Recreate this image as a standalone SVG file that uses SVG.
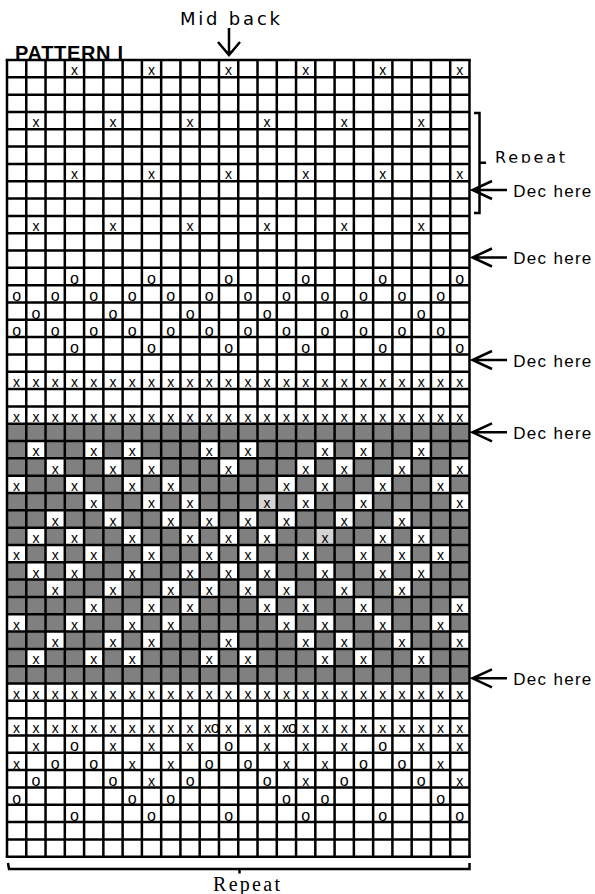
<svg xmlns="http://www.w3.org/2000/svg" width="595" height="894" viewBox="0 0 595 894">
<style>
.c{font-family:"Liberation Sans",Arial,sans-serif;font-size:14px;text-anchor:middle;fill:#000}
.o{font-family:"Liberation Sans",Arial,sans-serif;font-size:16px;text-anchor:middle;fill:#000}
.oo{font-size:16px}
.dec{font-family:"Liberation Sans",Arial,sans-serif;font-size:17px;fill:#000}
.ln{fill:none;stroke:#000;stroke-width:2.5}
.w{fill:#fff}
</style>
<defs>
<clipPath id="rc"><rect x="490" y="140" width="100" height="22.8"/></clipPath>
</defs>
<rect width="595" height="894" fill="#fff"/>
<g id="title">
<text x="15" y="60" font-family="'Liberation Sans',Arial,sans-serif" font-weight="bold" font-size="20" textLength="108" lengthAdjust="spacing">PATTERN I</text>
<text x="180" y="25" font-family="'DejaVu Sans',Verdana,sans-serif" font-size="18" textLength="100" lengthAdjust="spacing">Mid back</text>
</g>
<g id="shading">
<rect x="7" y="423.72" width="462.48" height="259.8" fill="#808080"/>
<path class="w" d="M26.27 441.04h19.27v17.32h-19.27zM84.08 441.04h19.27v17.32h-19.27zM122.62 441.04h19.27v17.32h-19.27zM199.7 441.04h19.27v17.32h-19.27zM238.24 441.04h19.27v17.32h-19.27zM315.32 441.04h19.27v17.32h-19.27zM353.86 441.04h19.27v17.32h-19.27zM411.67 441.04h19.27v17.32h-19.27z"/>
<path class="w" d="M45.54 458.36h19.27v17.32h-19.27zM103.35 458.36h19.27v17.32h-19.27zM141.89 458.36h19.27v17.32h-19.27zM218.97 458.36h19.27v17.32h-19.27zM296.05 458.36h19.27v17.32h-19.27zM334.59 458.36h19.27v17.32h-19.27zM392.4 458.36h19.27v17.32h-19.27zM450.21 458.36h19.27v17.32h-19.27z"/>
<path class="w" d="M7 475.68h19.27v17.32h-19.27zM64.81 475.68h19.27v17.32h-19.27zM122.62 475.68h19.27v17.32h-19.27zM161.16 475.68h19.27v17.32h-19.27zM276.78 475.68h19.27v17.32h-19.27zM315.32 475.68h19.27v17.32h-19.27zM373.13 475.68h19.27v17.32h-19.27zM430.94 475.68h19.27v17.32h-19.27z"/>
<path class="w" d="M84.08 493h19.27v17.32h-19.27zM141.89 493h19.27v17.32h-19.27zM180.43 493h19.27v17.32h-19.27zM296.05 493h19.27v17.32h-19.27zM353.86 493h19.27v17.32h-19.27zM450.21 493h19.27v17.32h-19.27z"/>
<path class="w" d="M45.54 510.32h19.27v17.32h-19.27zM103.35 510.32h19.27v17.32h-19.27zM161.16 510.32h19.27v17.32h-19.27zM199.7 510.32h19.27v17.32h-19.27zM238.24 510.32h19.27v17.32h-19.27zM276.78 510.32h19.27v17.32h-19.27zM334.59 510.32h19.27v17.32h-19.27zM392.4 510.32h19.27v17.32h-19.27z"/>
<path class="w" d="M26.27 527.64h19.27v17.32h-19.27zM64.81 527.64h19.27v17.32h-19.27zM122.62 527.64h19.27v17.32h-19.27zM180.43 527.64h19.27v17.32h-19.27zM218.97 527.64h19.27v17.32h-19.27zM257.51 527.64h19.27v17.32h-19.27zM373.13 527.64h19.27v17.32h-19.27zM411.67 527.64h19.27v17.32h-19.27z"/>
<path class="w" d="M7 544.96h19.27v17.32h-19.27zM45.54 544.96h19.27v17.32h-19.27zM84.08 544.96h19.27v17.32h-19.27zM141.89 544.96h19.27v17.32h-19.27zM199.7 544.96h19.27v17.32h-19.27zM238.24 544.96h19.27v17.32h-19.27zM296.05 544.96h19.27v17.32h-19.27zM353.86 544.96h19.27v17.32h-19.27zM392.4 544.96h19.27v17.32h-19.27zM430.94 544.96h19.27v17.32h-19.27z"/>
<path class="w" d="M26.27 562.28h19.27v17.32h-19.27zM64.81 562.28h19.27v17.32h-19.27zM122.62 562.28h19.27v17.32h-19.27zM180.43 562.28h19.27v17.32h-19.27zM218.97 562.28h19.27v17.32h-19.27zM257.51 562.28h19.27v17.32h-19.27zM315.32 562.28h19.27v17.32h-19.27zM373.13 562.28h19.27v17.32h-19.27zM411.67 562.28h19.27v17.32h-19.27z"/>
<path class="w" d="M45.54 579.6h19.27v17.32h-19.27zM103.35 579.6h19.27v17.32h-19.27zM161.16 579.6h19.27v17.32h-19.27zM199.7 579.6h19.27v17.32h-19.27zM238.24 579.6h19.27v17.32h-19.27zM276.78 579.6h19.27v17.32h-19.27zM334.59 579.6h19.27v17.32h-19.27zM392.4 579.6h19.27v17.32h-19.27z"/>
<path class="w" d="M84.08 596.92h19.27v17.32h-19.27zM141.89 596.92h19.27v17.32h-19.27zM180.43 596.92h19.27v17.32h-19.27zM257.51 596.92h19.27v17.32h-19.27zM296.05 596.92h19.27v17.32h-19.27zM353.86 596.92h19.27v17.32h-19.27zM450.21 596.92h19.27v17.32h-19.27z"/>
<path class="w" d="M7 614.24h19.27v17.32h-19.27zM64.81 614.24h19.27v17.32h-19.27zM122.62 614.24h19.27v17.32h-19.27zM161.16 614.24h19.27v17.32h-19.27zM276.78 614.24h19.27v17.32h-19.27zM315.32 614.24h19.27v17.32h-19.27zM373.13 614.24h19.27v17.32h-19.27zM430.94 614.24h19.27v17.32h-19.27z"/>
<path class="w" d="M45.54 631.56h19.27v17.32h-19.27zM103.35 631.56h19.27v17.32h-19.27zM141.89 631.56h19.27v17.32h-19.27zM218.97 631.56h19.27v17.32h-19.27zM296.05 631.56h19.27v17.32h-19.27zM334.59 631.56h19.27v17.32h-19.27zM392.4 631.56h19.27v17.32h-19.27zM450.21 631.56h19.27v17.32h-19.27z"/>
<path class="w" d="M26.27 648.88h19.27v17.32h-19.27zM84.08 648.88h19.27v17.32h-19.27zM122.62 648.88h19.27v17.32h-19.27zM199.7 648.88h19.27v17.32h-19.27zM238.24 648.88h19.27v17.32h-19.27zM315.32 648.88h19.27v17.32h-19.27zM353.86 648.88h19.27v17.32h-19.27zM411.67 648.88h19.27v17.32h-19.27z"/>
<path fill="#d4d4d4" d="M257.51 493h19.27v17.32h-19.27zM315.32 527.64h19.27v17.32h-19.27z"/>
</g>
<g id="grid">
<path class="ln" stroke-width="2.6" d="M7 60V856.72M26.27 60V856.72M45.54 60V856.72M64.81 60V856.72M84.08 60V856.72M103.35 60V856.72M122.62 60V856.72M141.89 60V856.72M161.16 60V856.72M180.43 60V856.72M199.7 60V856.72M218.97 60V856.72M238.24 60V856.72M257.51 60V856.72M276.78 60V856.72M296.05 60V856.72M315.32 60V856.72M334.59 60V856.72M353.86 60V856.72M373.13 60V856.72M392.4 60V856.72M411.67 60V856.72M430.94 60V856.72M450.21 60V856.72M469.48 60V856.72"/>
<path class="ln" stroke-width="2.3" d="M5.7 60H470.8M7 77.32H469.48M7 94.64H469.48M7 111.96H469.48M7 129.28H469.48M7 146.6H469.48M7 163.92H469.48M7 181.24H469.48M7 198.56H469.48M7 215.88H469.48M7 233.2H469.48M7 250.52H469.48M7 267.84H469.48M7 285.16H469.48M7 302.48H469.48M7 319.8H469.48M7 337.12H469.48M7 354.44H469.48M7 371.76H469.48M7 389.08H469.48M7 406.4H469.48M7 423.72H469.48M7 441.04H469.48M7 458.36H469.48M7 475.68H469.48M7 493H469.48M7 510.32H469.48M7 527.64H469.48M7 544.96H469.48M7 562.28H469.48M7 579.6H469.48M7 596.92H469.48M7 614.24H469.48M7 631.56H469.48M7 648.88H469.48M7 666.2H469.48M7 683.52H469.48M7 700.84H469.48M7 718.16H469.48M7 735.48H469.48M7 752.8H469.48M7 770.12H469.48M7 787.44H469.48M7 804.76H469.48M7 822.08H469.48M7 839.4H469.48M5.7 856.72H470.8"/>
</g>
<g id="stitches">
<text class="c" x="74.4 151.5 228.6 305.7 382.8 459.8" y="75.32">xxxxxx</text>
<text class="c" x="35.9 113 190.1 267.1 344.2 421.3" y="127.28">xxxxxx</text>
<text class="c" x="74.4 151.5 228.6 305.7 382.8 459.8" y="179.24">xxxxxx</text>
<text class="c" x="35.9 113 190.1 267.1 344.2 421.3" y="231.2">xxxxxx</text>
<text class="o" x="74.4 151.5 228.6 305.7 382.8 459.8" y="284.16">oooooo</text>
<text class="o" x="16.6 55.2 93.7 132.3 170.8 209.3 247.9 286.4 325 363.5 402 440.6" y="301.48">oooooooooooo</text>
<text class="o" x="35.9 113 190.1 267.1 344.2 421.3" y="318.8">oooooo</text>
<text class="o" x="16.6 55.2 93.7 132.3 170.8 209.3 247.9 286.4 325 363.5 402 440.6" y="336.12">oooooooooooo</text>
<text class="o" x="74.4 151.5 228.6 305.7 382.8 459.8" y="353.44">oooooo</text>
<text class="c" x="16.6 35.9 55.2 74.4 93.7 113 132.3 151.5 170.8 190.1 209.3 228.6 247.9 267.1 286.4 305.7 325 344.2 363.5 382.8 402 421.3 440.6 459.8" y="387.08">xxxxxxxxxxxxxxxxxxxxxxxx</text>
<text class="c" x="16.6 35.9 55.2 74.4 93.7 113 132.3 151.5 170.8 190.1 209.3 228.6 247.9 267.1 286.4 305.7 325 344.2 363.5 382.8 402 421.3 440.6 459.8" y="421.72">xxxxxxxxxxxxxxxxxxxxxxxx</text>
<text class="c" x="35.9 93.7 132.3 209.3 247.9 325 363.5 421.3" y="456.36">xxxxxxxx</text>
<text class="c" x="55.2 113 151.5 228.6 305.7 344.2 402 459.8" y="473.68">xxxxxxxx</text>
<text class="c" x="16.6 74.4 132.3 170.8 286.4 325 382.8 440.6" y="491">xxxxxxxx</text>
<text class="c" x="93.7 151.5 190.1 267.1 305.7 363.5 459.8" y="508.32">xxxxxxx</text>
<text class="c" x="55.2 113 170.8 209.3 247.9 286.4 344.2 402" y="525.64">xxxxxxxx</text>
<text class="c" x="35.9 74.4 132.3 190.1 228.6 267.1 325 382.8 421.3" y="542.96">xxxxxxxxx</text>
<text class="c" x="16.6 55.2 93.7 151.5 209.3 247.9 305.7 363.5 402 440.6" y="560.28">xxxxxxxxxx</text>
<text class="c" x="35.9 74.4 132.3 190.1 228.6 267.1 325 382.8 421.3" y="577.6">xxxxxxxxx</text>
<text class="c" x="55.2 113 170.8 209.3 247.9 286.4 344.2 402" y="594.92">xxxxxxxx</text>
<text class="c" x="93.7 151.5 190.1 267.1 305.7 363.5 459.8" y="612.24">xxxxxxx</text>
<text class="c" x="16.6 74.4 132.3 170.8 286.4 325 382.8 440.6" y="629.56">xxxxxxxx</text>
<text class="c" x="55.2 113 151.5 228.6 305.7 344.2 402 459.8" y="646.88">xxxxxxxx</text>
<text class="c" x="35.9 93.7 132.3 209.3 247.9 325 363.5 421.3" y="664.2">xxxxxxxx</text>
<text class="c" x="16.6 35.9 55.2 74.4 93.7 113 132.3 151.5 170.8 190.1 209.3 228.6 247.9 267.1 286.4 305.7 325 344.2 363.5 382.8 402 421.3 440.6 459.8" y="698.84">xxxxxxxxxxxxxxxxxxxxxxxx</text>
<text class="c" x="16.6 35.9 55.2 74.4 93.7 113 132.3 151.5 170.8 190.1 207.8 215.3 228.6 247.9 267.1 285.4 292.4 305.7 325 344.2 363.5 382.8 402 421.3 440.6 459.8" y="733.48">xxxxxxxxxxx<tspan class="oo">o</tspan>xxxx<tspan class="oo">o</tspan>xxxxxxxxx</text>
<text class="c" x="35.9 74.4 113 151.5 190.1 228.6 267.1 305.7 344.2 382.8 421.3 459.8" y="751.2">x<tspan class="oo">o</tspan>xxx<tspan class="oo">o</tspan>xxx<tspan class="oo">o</tspan>xx</text>
<text class="c" x="16.6 55.2 93.7 132.3 170.8 209.3 247.9 286.4 325 363.5 402 440.6" y="768.5">x<tspan class="oo">oo</tspan>xx<tspan class="oo">oo</tspan>xx<tspan class="oo">oo</tspan>x</text>
<text class="c" x="35.9 113 151.5 190.1 267.1 305.7 344.2 421.3 459.8" y="785.9"><tspan class="oo">oo</tspan>x<tspan class="oo">oo</tspan>x<tspan class="oo">oo</tspan>x</text>
<text class="o" x="16.6 132.3 170.8 286.4 325 440.6" y="803.76">oooooo</text>
<text class="o" x="74.4 151.5 228.6 305.7 382.8 459.8" y="821.08">oooooo</text>
</g>
<g id="connectors">
<path class="ln" d="M229 28V55M218 42L229 55L240 42"/>
<path class="ln" d="M474 113H479.5V162.7H486M479.5 162.7V213H474"/>
<path class="ln" d="M8 863L9 869H469.5V863M239.5 869V873.5"/>
<path class="ln" d="M472.5 190H507M492 181L472.5 190L492 199"/>
<path class="ln" d="M472.5 257.5H507M492 248.5L472.5 257.5L492 266.5"/>
<path class="ln" d="M472.5 360H507M492 351L472.5 360L492 369"/>
<path class="ln" d="M472.5 432.3H507M492 423.3L472.5 432.3L492 441.3"/>
<path class="ln" d="M472.5 678.3H507M492 669.3L472.5 678.3L492 687.3"/>
</g>
<g id="labels">
<text x="495" y="163" clip-path="url(#rc)" font-family="'DejaVu Sans',Verdana,sans-serif" font-size="16" textLength="70" lengthAdjust="spacing">Repeat</text>
<text class="dec" x="513.3" y="196.7" textLength="78" lengthAdjust="spacing">Dec here</text>
<text class="dec" x="513.3" y="264.2" textLength="78" lengthAdjust="spacing">Dec here</text>
<text class="dec" x="513.3" y="366.7" textLength="78" lengthAdjust="spacing">Dec here</text>
<text class="dec" x="513.3" y="439" textLength="78" lengthAdjust="spacing">Dec here</text>
<text class="dec" x="513.3" y="685" textLength="78" lengthAdjust="spacing">Dec here</text>
<text x="213" y="891" font-family="'Liberation Serif','Times New Roman',serif" font-size="20" textLength="67" lengthAdjust="spacing">Repeat</text>
</g>
</svg>
